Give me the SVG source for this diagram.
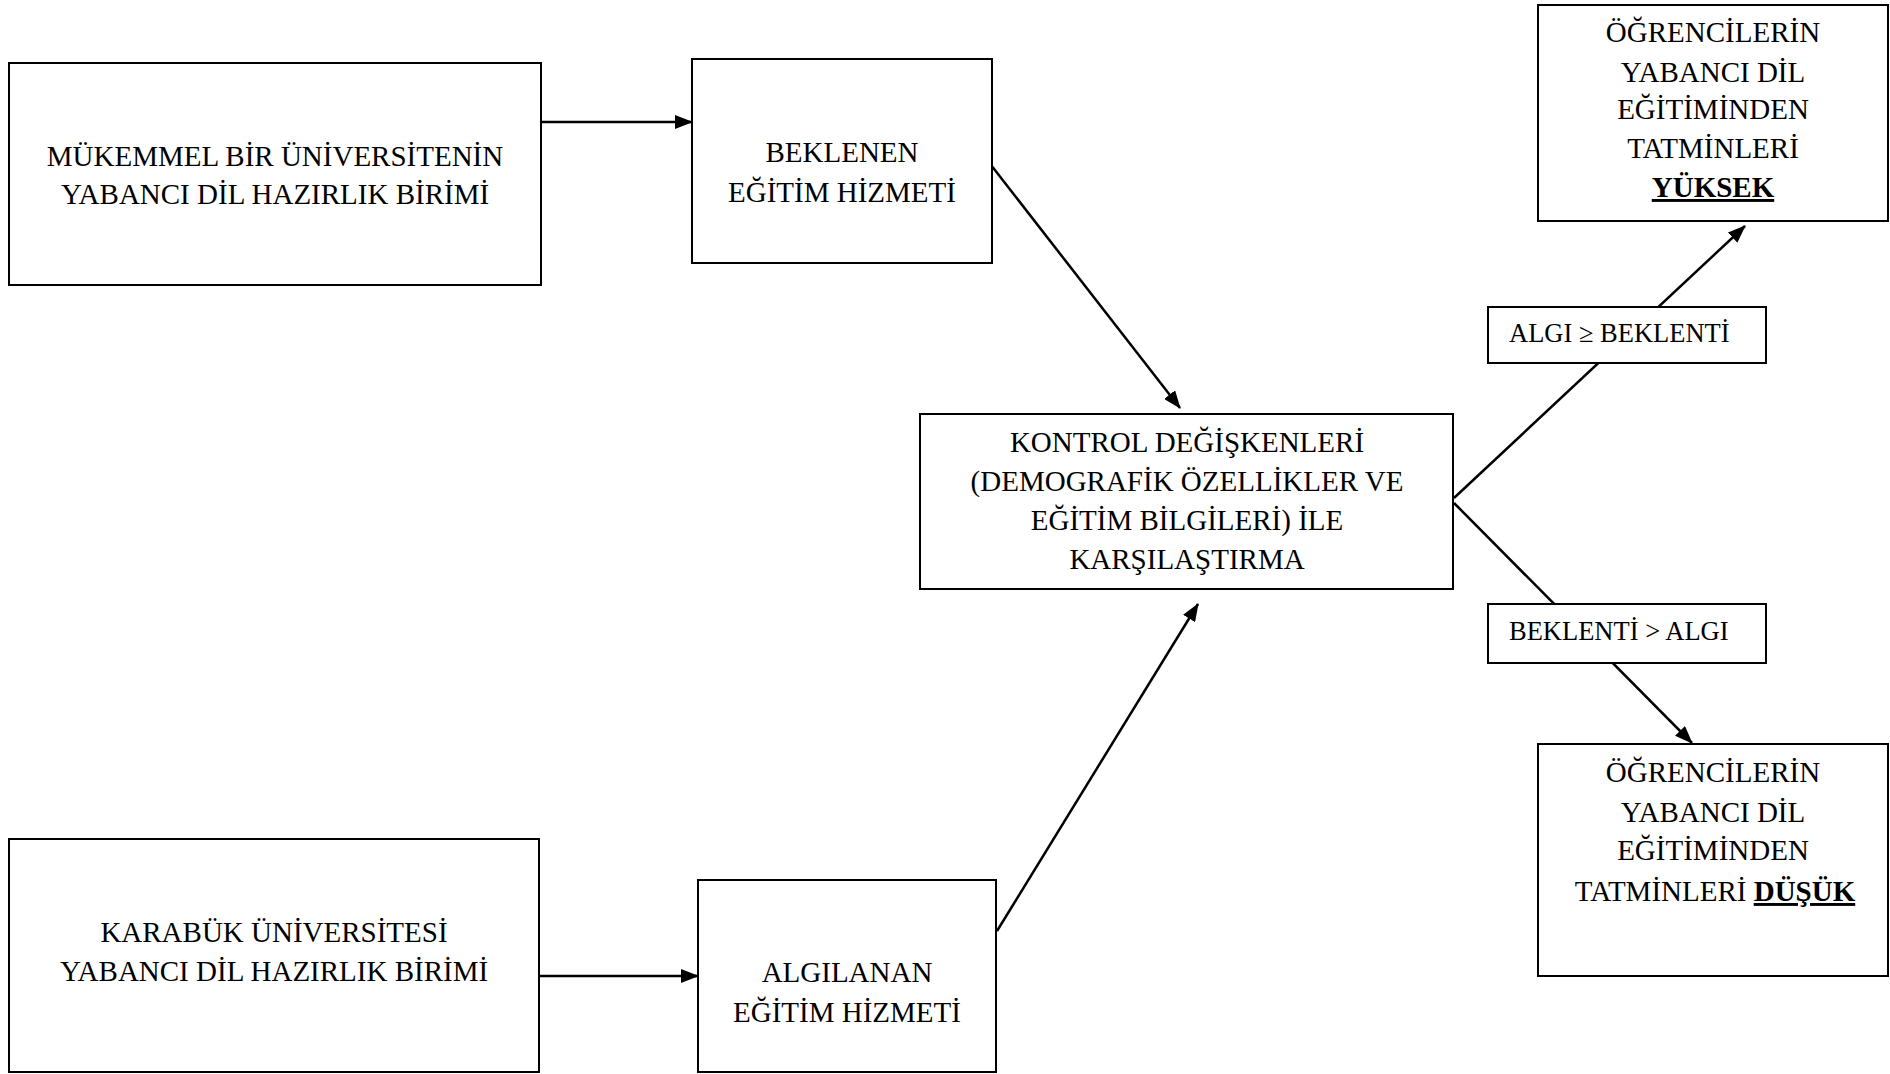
<svg xmlns="http://www.w3.org/2000/svg" width="1890" height="1074" viewBox="0 0 1890 1074">
  <style>
    .box { fill: #ffffff; stroke: #000000; stroke-width: 2; }
    .lbl { fill: #ffffff; stroke: #000000; stroke-width: 2; }
    .t { font-family: "Liberation Serif", "Times New Roman", serif; font-size: 29px; fill: #000000; text-anchor: middle; }
    .tl { font-family: "Liberation Serif", "Times New Roman", serif; font-size: 26.5px; fill: #000000; }
    .b { font-weight: bold; text-decoration: underline; }
    .edge { stroke: #000000; stroke-width: 2.5; fill: none; marker-end: url(#arrow); }
  </style>
  <defs>
    <marker id="arrow" markerUnits="userSpaceOnUse" markerWidth="18" markerHeight="14" refX="17" refY="7" orient="auto">
      <path d="M0,0 L18,7 L0,14 z" fill="#000000"/>
    </marker>
  </defs>
  <rect width="1890" height="1074" fill="#ffffff"/>

  <!-- connectors -->
  <g id="connectors">
    <line class="edge" x1="538" y1="122" x2="692" y2="122"/>
    <line class="edge" x1="539" y1="976" x2="698" y2="976"/>
    <line class="edge" x1="991" y1="165" x2="1180" y2="408"/>
    <line class="edge" x1="997" y1="931" x2="1198" y2="604"/>
    <line class="edge" x1="1454" y1="498" x2="1745" y2="226"/>
    <line class="edge" x1="1454" y1="503" x2="1692" y2="743"/>
  </g>

  <g id="ideal-unit">
    <rect class="box" x="9" y="63" width="532" height="222"/>
    <text class="t" x="275" y="166">MÜKEMMEL BİR ÜNİVERSİTENİN</text>
    <text class="t" x="275" y="204">YABANCI DİL HAZIRLIK BİRİMİ</text>
  </g>

  <g id="expected-service">
    <rect class="box" x="692" y="59" width="300" height="204"/>
    <text class="t" x="842" y="162">BEKLENEN</text>
    <text class="t" x="842" y="202">EĞİTİM HİZMETİ</text>
  </g>

  <g id="comparison">
    <rect class="box" x="920" y="414" width="533" height="175"/>
    <text class="t" x="1187" y="452">KONTROL DEĞİŞKENLERİ</text>
    <text class="t" x="1187" y="491">(DEMOGRAFİK ÖZELLİKLER VE</text>
    <text class="t" x="1187" y="530">EĞİTİM BİLGİLERİ) İLE</text>
    <text class="t" x="1187" y="569">KARŞILAŞTIRMA</text>
  </g>

  <g id="karabuk-unit">
    <rect class="box" x="9" y="839" width="530" height="233"/>
    <text class="t" x="274" y="942">KARABÜK ÜNİVERSİTESİ</text>
    <text class="t" x="274" y="981">YABANCI DİL HAZIRLIK BİRİMİ</text>
  </g>

  <g id="perceived-service">
    <rect class="box" x="698" y="880" width="298" height="192"/>
    <text class="t" x="847" y="982">ALGILANAN</text>
    <text class="t" x="847" y="1022">EĞİTİM HİZMETİ</text>
  </g>

  <g id="label-high">
    <rect class="lbl" x="1488" y="307" width="278" height="56"/>
    <text class="tl" x="1509" y="342">ALGI ≥ BEKLENTİ</text>
  </g>

  <g id="label-low">
    <rect class="lbl" x="1488" y="604" width="278" height="59"/>
    <text class="tl" x="1509" y="640">BEKLENTİ &gt; ALGI</text>
  </g>

  <g id="satisfaction-high">
    <rect class="box" x="1538" y="5" width="350" height="216"/>
    <text class="t" x="1713" y="42">ÖĞRENCİLERİN</text>
    <text class="t" x="1713" y="82">YABANCI DİL</text>
    <text class="t" x="1713" y="119">EĞİTİMİNDEN</text>
    <text class="t" x="1713" y="158">TATMİNLERİ</text>
    <text class="t b" x="1713" y="197">YÜKSEK</text>
  </g>

  <g id="satisfaction-low">
    <rect class="box" x="1538" y="744" width="350" height="232"/>
    <text class="t" x="1713" y="782">ÖĞRENCİLERİN</text>
    <text class="t" x="1713" y="822">YABANCI DİL</text>
    <text class="t" x="1713" y="860">EĞİTİMİNDEN</text>
    <text class="t" x="1715" y="901">TATMİNLERİ <tspan class="b">DÜŞÜK</tspan></text>
  </g>
</svg>
